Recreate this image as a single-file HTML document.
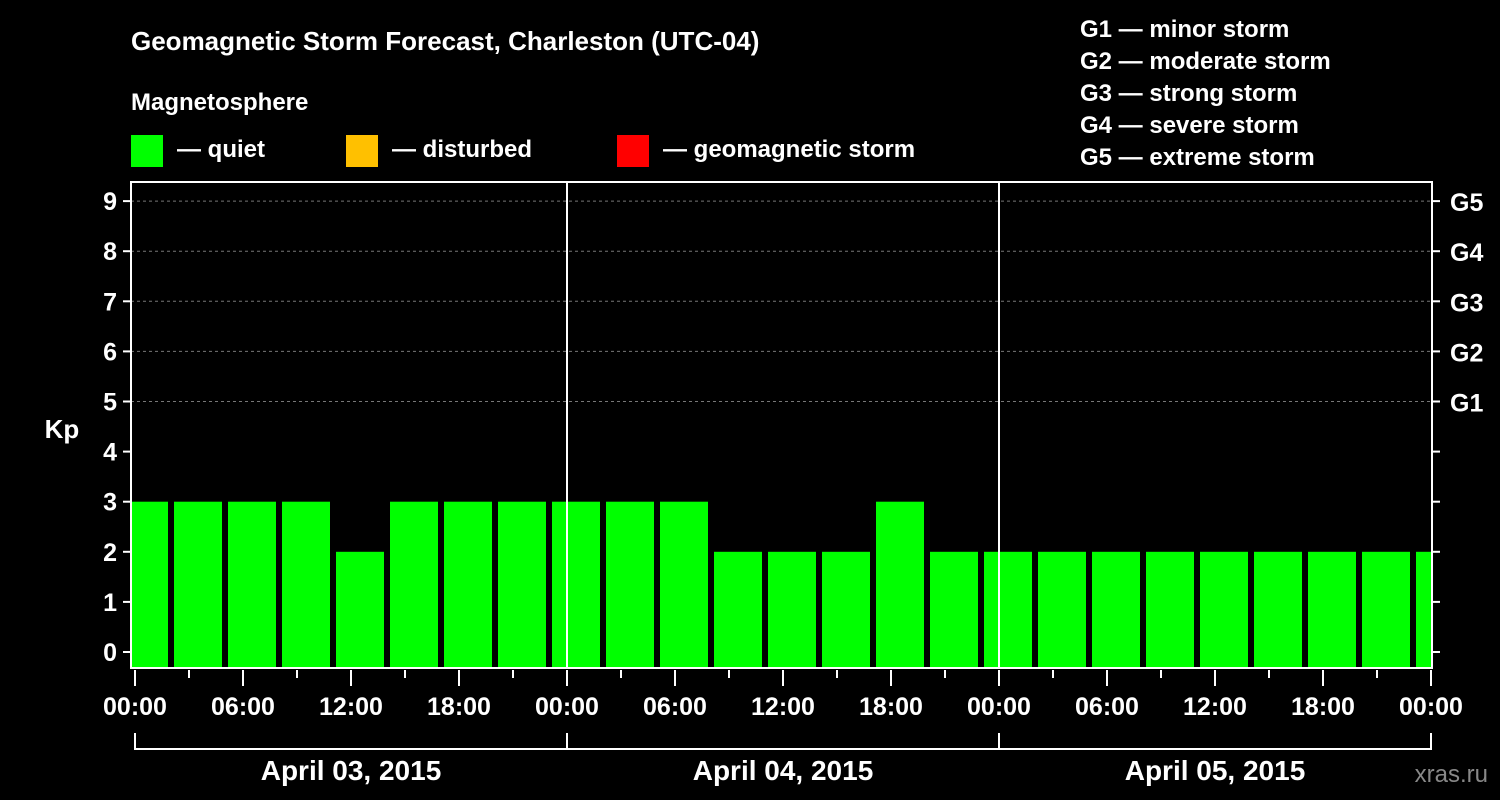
<!DOCTYPE html>
<html><head><meta charset="utf-8"><style>
body{margin:0;background:#000;width:1500px;height:800px;overflow:hidden}
svg{display:block;font-family:"Liberation Sans",Arial,sans-serif;font-weight:bold}
</style></head><body>
<svg id="c" width="1500" height="800" xmlns="http://www.w3.org/2000/svg">
<rect width="1500" height="800" fill="#000"/>
<text x="131" y="50" fill="#fff" font-size="26">Geomagnetic Storm Forecast, Charleston (UTC-04)</text>
<text x="131" y="110" fill="#fff" font-size="24">Magnetosphere</text>
<g><rect x="131" y="135" width="32" height="32" fill="#00ff00"/><text x="177" y="157" fill="#fff" font-size="24">— quiet</text></g>
<g><rect x="346" y="135" width="32" height="32" fill="#ffc000"/><text x="392" y="157" fill="#fff" font-size="24">— disturbed</text></g>
<g><rect x="617" y="135" width="32" height="32" fill="#ff0000"/><text x="663" y="157" fill="#fff" font-size="24">— geomagnetic storm</text></g>
<g fill="#fff" font-size="24">
<text x="1080" y="37">G1 — minor storm</text>
<text x="1080" y="69">G2 — moderate storm</text>
<text x="1080" y="101">G3 — strong storm</text>
<text x="1080" y="133">G4 — severe storm</text>
<text x="1080" y="165">G5 — extreme storm</text>
</g>
<text x="62" y="438" fill="#fff" font-size="26" text-anchor="middle">Kp</text>
<text x="1488" y="782" fill="#888" font-size="24" text-anchor="end" font-weight="normal">xras.ru</text>
<g id="grid"></g><g id="bars"></g><g id="axes"></g>
</svg>
<script>
const kpValues=[3,3,3,3,2,3,3,3,3,3,3,2,2,2,3,2,2,2,2,2,2,2,2,2,2];
const yTicks=[0,1,2,3,4,5,6,7,8,9];
const gLabels=["G1","G2","G3","G4","G5"];
const xTickLabels=["00:00","06:00","12:00","18:00","00:00","06:00","12:00","18:00","00:00","06:00","12:00","18:00","00:00"];
const dayLabels=["April 03, 2015","April 04, 2015","April 05, 2015"];
const NS="http://www.w3.org/2000/svg";
const L=131,R=1432,T=182,B=668,X0=135,PXH=18;
const xs=h=>X0+h*PXH;
const ys=k=>652-k*50.1;
function mk(tag,attrs,parent,text){const e=document.createElementNS(NS,tag);for(const k in attrs)e.setAttribute(k,attrs[k]);if(text!==undefined)e.textContent=text;parent.appendChild(e);return e;}
const grid=document.getElementById('grid'),bars=document.getElementById('bars'),axes=document.getElementById('axes');
mk('clipPath',{id:'pc'},bars);mk('rect',{x:L+1,y:T,width:R-L-1,height:B-T},bars.lastChild);
yTicks.forEach(k=>{
  if(k>=5){const g=mk('line',{x1:L,x2:R,y1:ys(k),y2:ys(k),stroke:'#777','stroke-dasharray':'3,3'},grid);
  
  }
  const t=mk('line',{x1:L-8,x2:L,y1:ys(k),y2:ys(k),stroke:'#fff','stroke-width':2},axes);
  mk('line',{x1:R,x2:R+8,y1:ys(k),y2:ys(k),stroke:'#fff','stroke-width':2},axes);
  const tx=mk('text',{x:L-14,y:ys(k)+9,fill:'#fff','font-size':25,'text-anchor':'end'},axes,String(k));
  
  
  if(k>=5){const gl=mk('text',{x:R+18,y:ys(k)+10,fill:'#fff','font-size':25},axes,gLabels[k-5]);
  
  }
});
const bg=mk('g',{'clip-path':'url(#pc)'},bars);
kpValues.forEach((v,i)=>{
  const c=xs(0.5+3*i);
  const r=mk('rect',{x:c-24,y:ys(v),width:48,height:B-ys(v),fill:'#00ff00'},bg);
  
  
});
[1,2].forEach(d=>mk('line',{x1:xs(24*d),x2:xs(24*d),y1:T,y2:B,stroke:'#fff','stroke-width':2},axes));
mk('rect',{x:L,y:T,width:R-L,height:B-T,fill:'none',stroke:'#fff','stroke-width':2},axes);
for(let h=0;h<=72;h+=3){const maj=h%6===0;mk('line',{x1:xs(h),x2:xs(h),y1:B+2,y2:B+(maj?18:10),stroke:'#fff','stroke-width':2},axes);}
xTickLabels.forEach((s,i)=>{const t=mk('text',{x:xs(6*i),y:715,fill:'#fff','font-size':25,'text-anchor':'middle'},axes,s);

});
dayLabels.forEach((s,i)=>{
  const a=xs(24*i),b=xs(24*(i+1));
  mk('path',{d:`M${a} 733V749H${b}V733`,fill:'none',stroke:'#fff','stroke-width':2},axes);
  const t=mk('text',{x:(a+b)/2,y:780,fill:'#fff','font-size':28,'text-anchor':'middle'},axes,s);
  
  
});
</script>
</body></html>
